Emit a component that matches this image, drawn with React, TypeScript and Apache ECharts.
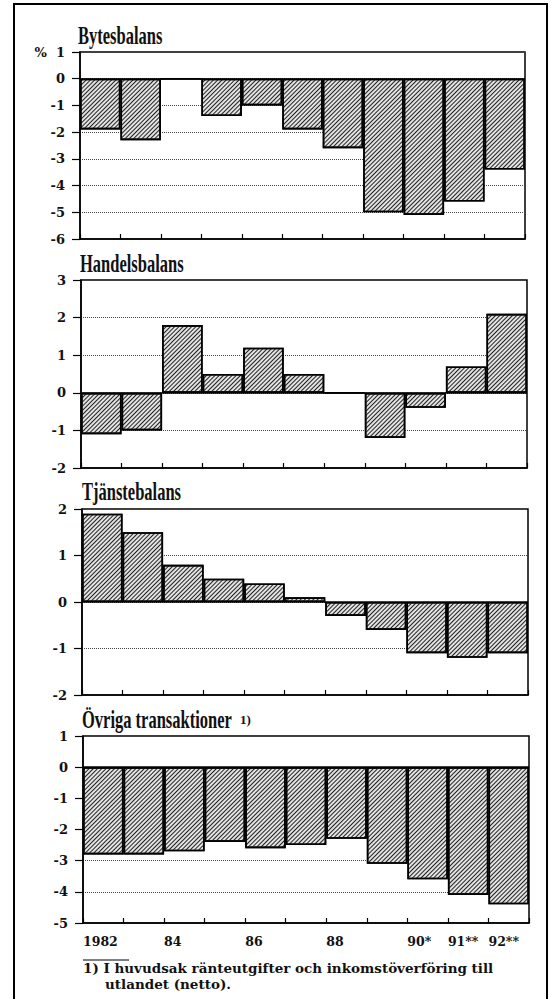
import React, { useEffect, useRef } from "react";
import * as echarts from "echarts";

const years = ["1982", "1983", "1984", "1985", "1986", "1987", "1988", "1989", "1990", "1991", "1992"];
const tickLabels = ["1982", "", "84", "", "86", "", "88", "", "90*", "91**", "92**", ""];
const bytesbalans = [-1.9, -2.3, 0, -1.4, -1.0, -1.9, -2.6, -5.0, -5.1, -4.6, -3.4];
const handelsbalans = [-1.1, -1.0, 1.8, 0.5, 1.2, 0.5, 0, -1.2, -0.4, 0.7, 2.1];
const tjanstebalans = [1.9, 1.5, 0.8, 0.5, 0.4, 0.1, -0.3, -0.6, -1.1, -1.2, -1.1];
const ovriga = [-2.8, -2.8, -2.7, -2.4, -2.6, -2.5, -2.3, -3.1, -3.6, -4.1, -4.4];

const titles = ["Bytesbalans", "Handelsbalans", "Tjänstebalans", "Övriga transaktioner"];
const yRanges = [
  [-6, 1],
  [-2, 3],
  [-2, 2],
  [-5, 1],
];
const footnote1 = "1) I huvudsak ränteutgifter och inkomstöverföring till";
const footnote2 = "utlandet (netto).";

const grids = [
  { left: 80, top: 52, width: 445, height: 187 },
  { left: 81, top: 280, width: 446, height: 188 },
  { left: 82, top: 509, width: 446, height: 186 },
  { left: 83, top: 736, width: 446, height: 187 },
];
const titlePos = [
  { x: 78, y: 36 },
  { x: 80, y: 264 },
  { x: 82, y: 492 },
  { x: 82, y: 720 },
];

const labelFont = { fontFamily: "DejaVu Serif", fontWeight: "bold" as const, fontSize: 13, color: "#111" };

export default function App() {
  const ref = useRef<HTMLDivElement>(null);
  useEffect(() => {
    document.body.style.margin = "0";
    const chart = echarts.init(ref.current!, undefined, { renderer: "svg" });
    const dataSets = [bytesbalans, handelsbalans, tjanstebalans, ovriga];

    const xAxis: any[] = grids.map((_, i) => ({
      type: "category",
      gridIndex: i,
      data: years,
      boundaryGap: true,
      axisLine: { onZero: false, lineStyle: { color: "#000", width: 1.5 } },
      axisTick: { show: true, inside: true, length: 5, lineStyle: { color: "#000", width: 1.2 } },
      axisLabel: { show: false },
      splitLine: { show: false },
    }));
    xAxis.push({
      type: "category",
      gridIndex: 3,
      data: tickLabels,
      boundaryGap: false,
      position: "bottom",
      axisLine: { show: false },
      axisTick: { show: false },
      axisLabel: { show: true, interval: 0, align: "left", margin: 12, ...labelFont, fontSize: 12.5 },
      splitLine: { show: false },
    });

    const yAxis = grids.map((_, i) => ({
      type: "value",
      gridIndex: i,
      min: yRanges[i][0],
      max: yRanges[i][1],
      interval: 1,
      axisLine: { show: true, lineStyle: { color: "#000", width: 1.5 } },
      axisTick: { show: true, inside: false, length: 8, lineStyle: { color: "#000", width: 1.2 } },
      axisLabel: {
        margin: 15,
        ...labelFont,
        formatter: (v: number) => (i === 0 && v === 1 ? "%  1" : String(v)),
      },
      splitLine: { show: true, lineStyle: { color: "#444", type: "dotted", width: 1 } },
    }));

    const series = dataSets.map((d, i) => ({
      type: "bar",
      xAxisIndex: i,
      yAxisIndex: i,
      data: d,
      barWidth: "100%",
      barCategoryGap: "0%",
      itemStyle: {
        color: "#e2e2e2",
        borderColor: "#000",
        borderWidth: 1.6,
        decal: {
          symbol: "rect",
          symbolSize: 1,
          dashArrayX: [1, 0],
          dashArrayY: [1, 1.8],
          rotation: -Math.PI / 4,
          color: "#222",
        },
      },
      markLine: {
        silent: true,
        symbol: "none",
        label: { show: false },
        lineStyle: { color: "#000", type: "solid", width: 1.5 },
        data: [{ yAxis: 0 }],
      },
    }));

    const titleStyle = {
      fill: "#111",
      fontFamily: "Liberation Serif",
      fontWeight: "bold",
      fontSize: 25,
      align: "left",
      verticalAlign: "middle",
    };
    const footStyle = {
      fill: "#111",
      fontFamily: "DejaVu Serif",
      fontWeight: "bold",
      fontSize: 12.5,
      lineHeight: 14,
      align: "left",
      verticalAlign: "middle",
    };

    const graphic: any[] = [
      {
        type: "rect",
        shape: { x: 14, y: 4, width: 533, height: 1010 },
        style: { fill: "none", stroke: "#000", lineWidth: 2 },
        silent: true,
      },
      ...titles.map((t, i) => ({
        type: "text",
        x: titlePos[i].x,
        y: titlePos[i].y,
        scaleX: 0.66,
        style: { text: t, ...titleStyle },
      })),
      {
        type: "text",
        x: 240,
        y: 719,
        style: { text: "1)", ...titleStyle, fontSize: 13 },
      },
      {
        type: "line",
        shape: { x1: 83, y1: 960, x2: 129, y2: 960 },
        style: { stroke: "#000", lineWidth: 1 },
      },
      {
        type: "text",
        x: 83,
        y: 969,
        scaleX: 1.08,
        style: { text: footnote1, ...footStyle },
      },
      {
        type: "text",
        x: 105,
        y: 985,
        scaleX: 1.08,
        style: { text: footnote2, ...footStyle },
      },
    ];

    chart.setOption({
      animation: false,
      backgroundColor: "#fff",
      grid: grids.map((g) => ({ ...g, show: true, borderColor: "#000", borderWidth: 1.5, backgroundColor: "transparent" })),
      xAxis,
      yAxis,
      series,
      graphic,
    });
    return () => chart.dispose();
  }, []);
  return <div ref={ref} style={{ width: 553, height: 999 }} />;
}
